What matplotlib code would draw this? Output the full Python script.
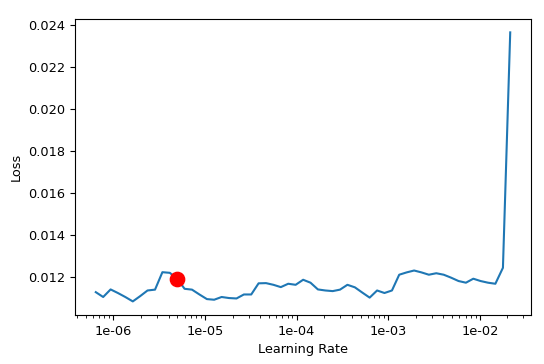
import matplotlib.pyplot as plt

# learning rates tried by the finder (log spaced) and recorded losses
lrs = [6.43e-7, 7.74e-7, 9.33e-7, 1.12e-6, 1.35e-6, 1.63e-6, 1.96e-6, 2.36e-6,
       2.85e-6, 3.43e-6, 4.13e-6, 4.98e-6, 5.99e-6, 7.22e-6, 8.70e-6, 1.05e-5,
       1.26e-5, 1.52e-5, 1.83e-5, 2.21e-5, 2.66e-5, 3.20e-5, 3.85e-5, 4.64e-5,
       5.59e-5, 6.73e-5, 8.11e-5, 9.77e-5, 1.18e-4, 1.42e-4, 1.71e-4, 2.06e-4,
       2.48e-4, 2.98e-4, 3.59e-4, 4.33e-4, 5.22e-4, 6.28e-4, 7.57e-4, 9.11e-4,
       1.10e-3, 1.32e-3, 1.59e-3, 1.92e-3, 2.31e-3, 2.78e-3, 3.35e-3, 4.04e-3,
       4.86e-3, 5.86e-3, 7.06e-3, 8.50e-3, 1.02e-2, 1.23e-2, 1.48e-2, 1.79e-2,
       2.15e-2]
losses = [0.01130, 0.01107, 0.01143, 0.01126, 0.01107, 0.01086, 0.01111, 0.01138,
          0.01142, 0.01225, 0.01222, 0.01194, 0.01146, 0.01142, 0.01119, 0.01097,
          0.01094, 0.01107, 0.01102, 0.01100, 0.01119, 0.01119, 0.01172, 0.01173,
          0.01165, 0.01154, 0.01170, 0.01165, 0.01189, 0.01175, 0.01143, 0.01138,
          0.01135, 0.01142, 0.01165, 0.01153, 0.01128, 0.01104, 0.01138, 0.01126,
          0.01138, 0.01213, 0.01224, 0.01233, 0.01224, 0.01213, 0.01220, 0.01213,
          0.01199, 0.01183, 0.01175, 0.01194, 0.01183, 0.01175, 0.01170, 0.01246,
          0.02366]
best = 11  # index of suggested lr (red dot)

fig = plt.figure(figsize=(5.44, 3.64), dpi=100)
ax = fig.add_axes([0.138, 0.135, 0.838, 0.813])
ax.plot(lrs, losses, color='#1f77b4', lw=1.5)
ax.plot(lrs[best], losses[best], 'o', color='red', markersize=10.3)
ax.set_xscale('log')
ax.xaxis.set_major_formatter(plt.FormatStrFormatter('%.0e'))
ax.set_yticks([0.012, 0.014, 0.016, 0.018, 0.020, 0.022, 0.024])
ax.tick_params(labelsize=9.3)
ax.set_xlabel('Learning Rate', fontsize=9.3)
ax.set_ylabel('Loss', fontsize=9.3)
fig.savefig('out.png')
